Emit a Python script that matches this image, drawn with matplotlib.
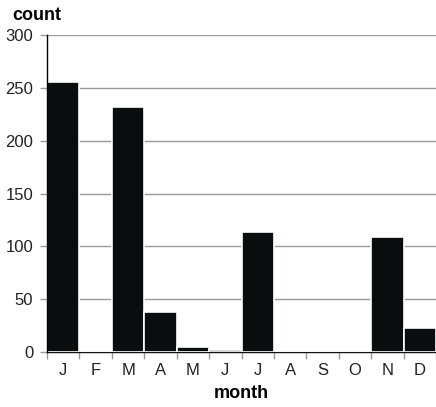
import numpy as np
import matplotlib.pyplot as plt

plt.rcParams['font.family'] = ['Liberation Sans', 'DejaVu Sans']

months = ["J", "F", "M", "A", "M", "J", "J", "A", "S", "O", "N", "D"]
counts = [256, 0, 232, 38, 5, 2, 114, 0, 0, 0, 109, 23]
yticks = [0, 50, 100, 150, 200, 250, 300]

fig = plt.figure(figsize=(4.36, 4.07), dpi=100)
ax = fig.add_axes([0.108, 0.135, 0.892, 0.779])

x = np.arange(len(months))
ax.bar(x, counts, width=1.0, color="#0a0d0d", edgecolor="white", linewidth=1.2, zorder=3)

ax.set_xlim(-0.5, len(months) - 0.5)
ax.set_ylim(0, 300)
ax.set_yticks(yticks)
ax.set_yticklabels([str(v) for v in yticks], fontsize=12, color="#222222")
ax.set_xticks(x)
ax.set_xticklabels(months, fontsize=12, color="#222222")
ax.set_xticks(np.arange(-0.5, len(months), 1.0), minor=True)
ax.tick_params(axis="x", which="major", length=0, pad=8)
ax.tick_params(axis="x", which="minor", length=5, color="#999999", width=1)
ax.tick_params(axis="y", length=5, color="#999999", width=1, pad=5)

ax.grid(axis="y", color="#999999", linewidth=1, zorder=0)
for side in ["top", "right"]:
    ax.spines[side].set_visible(False)
ax.spines["left"].set_color("black")
ax.spines["left"].set_linewidth(1)
ax.spines["bottom"].set_color("#111111")
ax.spines["bottom"].set_linewidth(1)
ax.spines["left"].set_zorder(4)

fig.text(0.027, 0.962, "count", fontsize=13, fontweight="bold", va="center", ha="left")
ax.set_xlabel("month", fontsize=13, fontweight="bold", labelpad=5)

fig.savefig("out.png", dpi=100)
